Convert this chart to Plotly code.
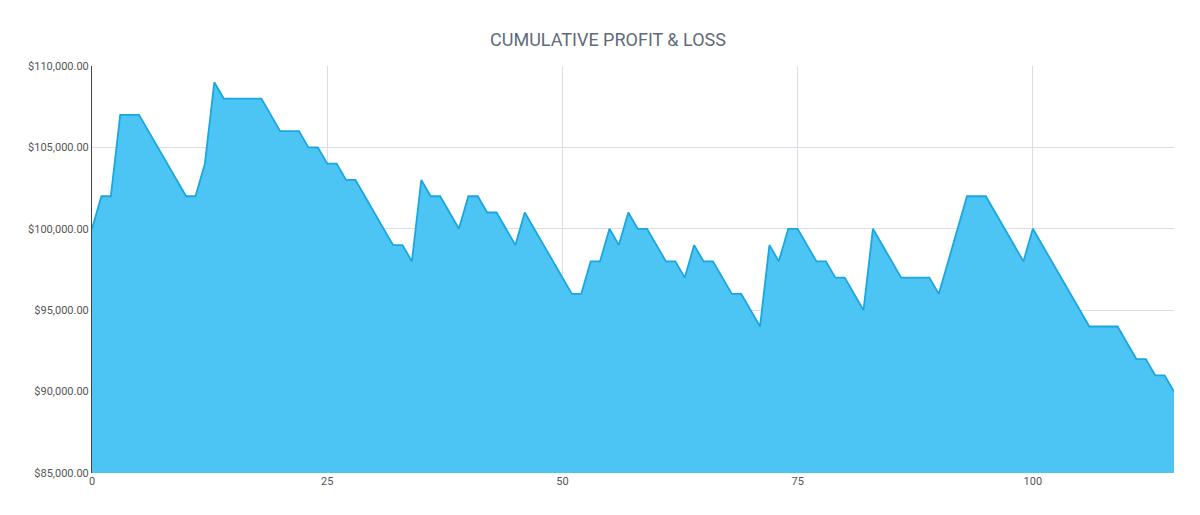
import plotly.graph_objects as go

# cumulative P&L per trade (in thousands)
trade_no = list(range(116))
pnl_k = [100, 102, 102, 107, 107, 107, 106, 105, 104, 103, 102, 102, 104, 109, 108, 108,
         108, 108, 108, 107, 106, 106, 106, 105, 105, 104, 104, 103, 103, 102, 101, 100,
         99, 99, 98, 103, 102, 102, 101, 100, 102, 102, 101, 101, 100, 99, 101, 100,
         99, 98, 97, 96, 96, 98, 98, 100, 99, 101, 100, 100, 99, 98, 98, 97, 99, 98,
         98, 97, 96, 96, 95, 94, 99, 98, 100, 100, 99, 98, 98, 97, 97, 96, 95, 100,
         99, 98, 97, 97, 97, 97, 96, 98, 100, 102, 102, 102, 101, 100, 99, 98, 100, 99,
         98, 97, 96, 95, 94, 94, 94, 94, 93, 92, 92, 91, 91, 90]
pnl = [v * 1000 for v in pnl_k]

fig = go.Figure(go.Scatter(
    x=trade_no, y=pnl, mode="lines", fill="tozeroy",
    line=dict(color="#1aa6df", width=1.8), fillcolor="#4cc5f4",
    hoverinfo="x+y"))

fig.update_layout(
    width=1200, height=515,
    paper_bgcolor="white", plot_bgcolor="white",
    margin=dict(l=84, r=34, t=58, b=50),
    font=dict(family="Roboto", color="#555"),
    title=dict(text="CUMULATIVE PROFIT & LOSS", x=0.5, y=0.95, xanchor="center",
               font=dict(size=18, color="#5f6b7a")),
    showlegend=False,
)
fig.update_xaxes(range=[0, 115], tickvals=[0, 25, 50, 75, 100], gridcolor="#dcdce8",
                 zeroline=False, showline=False, tickfont=dict(size=11, color="#555"))
fig.update_yaxes(range=[85000, 110000], dtick=5000, tickformat="$,.2f",
                 gridcolor="#dcdce8", zeroline=False, showline=True, linecolor="#444",
                 linewidth=1, tickfont=dict(size=11, color="#555"))

fig.write_html("out.html")
